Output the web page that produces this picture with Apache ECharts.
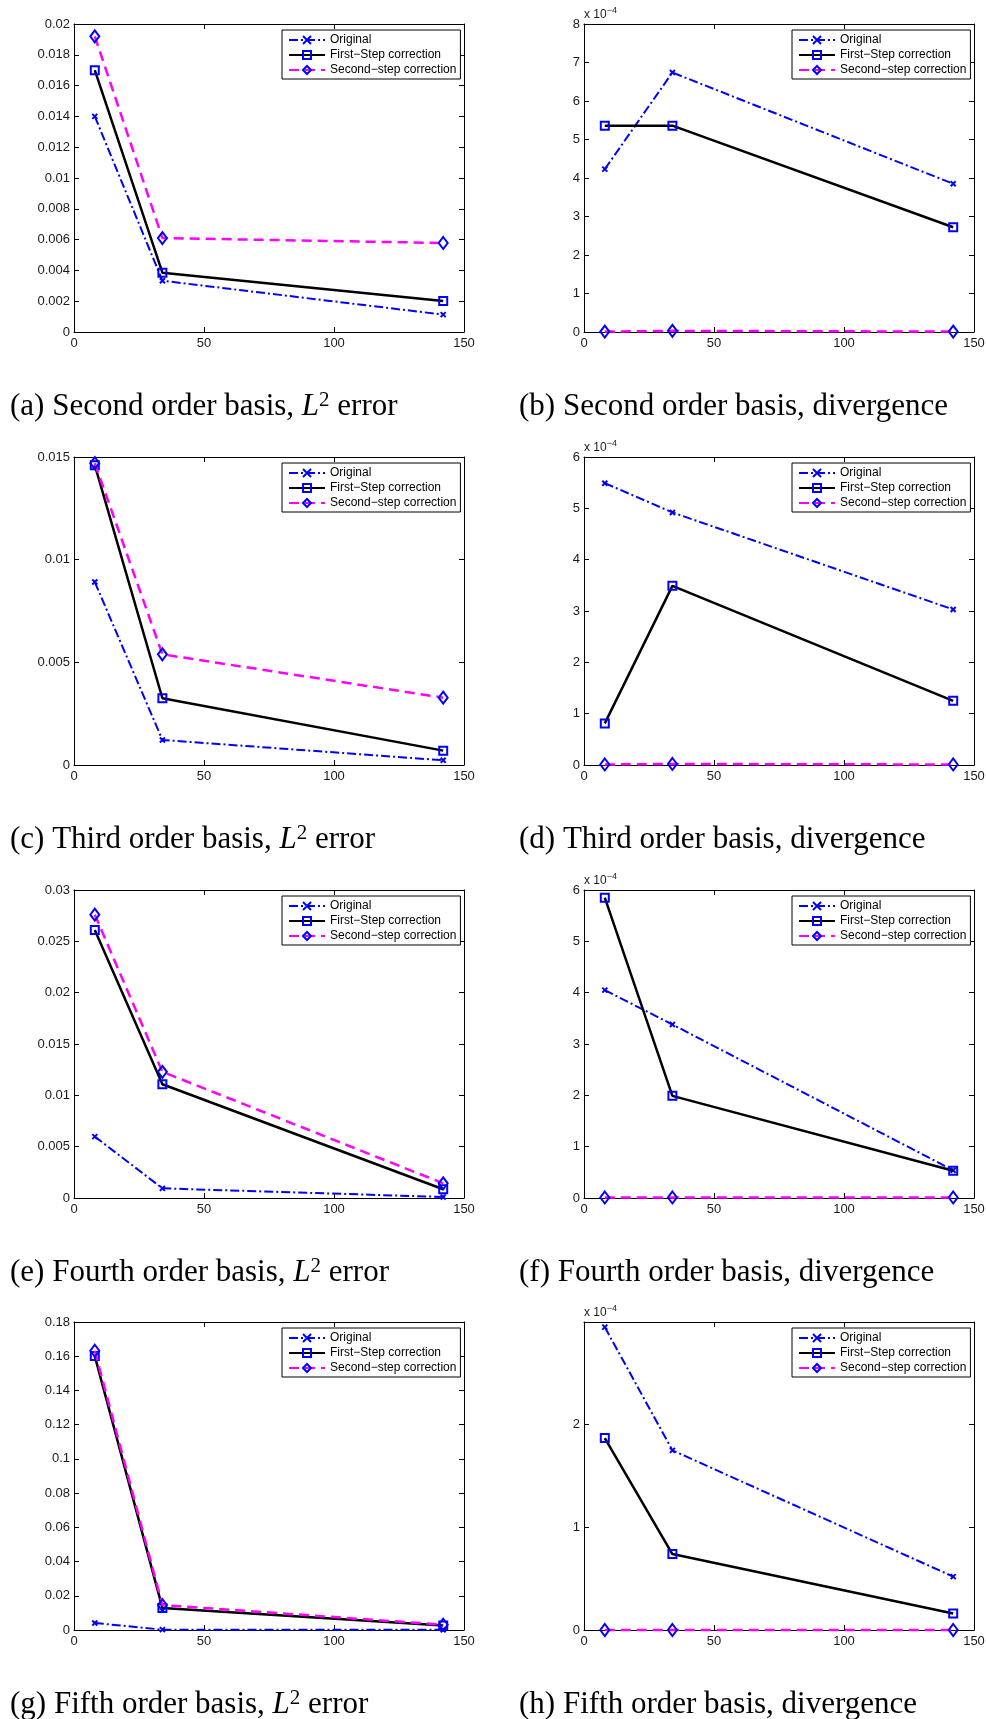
<!DOCTYPE html>
<html>
<head>
<meta charset="utf-8">
<style>
  html, body { margin: 0; padding: 0; background: #fff; }
  #main { width: 986px; height: 1719px; }
</style>
<script src="https://cdn.jsdelivr.net/npm/echarts@6/dist/echarts.min.js"></script>
</head>
<body>
<div id="main"></div>
<script>
// x values shared by all panels
const xValues = [8, 34, 142];

// (a) second order, L2 error
const aOriginal = [0.0140, 0.00333, 0.00113];
const aFirstStep = [0.0170, 0.00385, 0.00201];
const aSecondStep = [0.0192, 0.00610, 0.00578];
// (b) second order, divergence
const bOriginal = [4.23e-4, 6.74e-4, 3.85e-4];
const bFirstStep = [5.36e-4, 5.36e-4, 2.72e-4];
const bSecondStep = [0.01e-4, 0.03e-4, 0.01e-4];
// (c) third order, L2 error
const cOriginal = [0.00891, 0.00122, 0.00023];
const cFirstStep = [0.0146, 0.00325, 0.00070];
const cSecondStep = [0.0147, 0.00539, 0.00328];
// (d) third order, divergence
const dOriginal = [5.49e-4, 4.92e-4, 3.03e-4];
const dFirstStep = [0.81e-4, 3.49e-4, 1.25e-4];
const dSecondStep = [0.01e-4, 0.02e-4, 0.01e-4];
// (e) fourth order, L2 error
const eOriginal = [0.00598, 0.00094, 0.00010];
const eFirstStep = [0.0261, 0.01108, 0.00085];
const eSecondStep = [0.0276, 0.01229, 0.00143];
// (f) fourth order, divergence
const fOriginal = [4.05e-4, 3.38e-4, 0.54e-4];
const fFirstStep = [5.85e-4, 1.99e-4, 0.53e-4];
const fSecondStep = [0.01e-4, 0.01e-4, 0.01e-4];
// (g) fifth order, L2 error
const gOriginal = [0.0041, 0.0002, 0.0001];
const gFirstStep = [0.1601, 0.0129, 0.0027];
const gSecondStep = [0.1632, 0.0146, 0.0031];
// (h) fifth order, divergence
const hOriginal = [2.95e-4, 1.75e-4, 0.52e-4];
const hFirstStep = [1.87e-4, 0.74e-4, 0.16e-4];
const hSecondStep = [0, 0, 0];

// axis ranges
const xMax = 150;
const xStep = 50;
const yMaxes = [0.02, 8e-4, 0.015, 6e-4, 0.03, 6e-4, 0.18, 3e-4];
const ySteps = [0.002, 1e-4, 0.005, 1e-4, 0.005, 1e-4, 0.02, 1e-4];

const seriesNames = ['Original', 'First\u2212Step correction', 'Second\u2212step correction'];

const captions = [
    '(a) Second order basis, {it|L}{sup|2} error',
    '(b) Second order basis, divergence',
    '(c) Third order basis, {it|L}{sup|2} error',
    '(d) Third order basis, divergence',
    '(e) Fourth order basis, {it|L}{sup|2} error',
    '(f) Fourth order basis, divergence',
    '(g) Fifth order basis, {it|L}{sup|2} error',
    '(h) Fifth order basis, divergence'
];

const panelData = [
    [aOriginal, aFirstStep, aSecondStep],
    [bOriginal, bFirstStep, bSecondStep],
    [cOriginal, cFirstStep, cSecondStep],
    [dOriginal, dFirstStep, dSecondStep],
    [eOriginal, eFirstStep, eSecondStep],
    [fOriginal, fFirstStep, fSecondStep],
    [gOriginal, gFirstStep, gSecondStep],
    [hOriginal, hFirstStep, hSecondStep]
];

// layout
const colLeft = [74, 584];
const rowTop = [24, 457, 890, 1322];
const plotW = 390;
const plotH = 308;

const sansFont = 'Liberation Sans';
const serifFont = 'Liberation Serif';

const lineLooks = [
    {
        symbol: 'path://M0,0L10,10M0,10L10,0',
        symbolSize: 5,
        lineStyle: { color: '#0000ff', width: 2, type: [9, 3, 2, 3] },
        itemStyle: { color: '#0000ff', borderColor: '#0000ff', borderWidth: 2 }
    },
    {
        symbol: 'rect',
        symbolSize: 8,
        lineStyle: { color: '#000000', width: 2.5, type: 'solid' },
        itemStyle: { color: 'rgba(0,0,0,0)', borderColor: '#0000ff', borderWidth: 2 }
    },
    {
        symbol: 'diamond',
        symbolSize: [9, 12],
        lineStyle: { color: '#ff00ff', width: 2.5, type: [10, 6] },
        itemStyle: { color: 'rgba(0,0,0,0)', borderColor: '#0000ff', borderWidth: 2 }
    }
];

const isDivergence = i => i % 2 === 1;
const panelLeft = i => colLeft[i % 2];
const panelTop = i => rowTop[Math.floor(i / 2)];

const grid = [];
const xAxis = [];
const yAxis = [];
const legend = [];
const series = [];
const graphic = [];

const frameLine = { onZero: false, lineStyle: { color: '#000', width: 1 } };
const inTick = { inside: true, length: 5, lineStyle: { color: '#000', width: 1 } };
const tickText = { fontFamily: sansFont, fontSize: 13, color: '#1a1a1a' };

panelData.forEach((lines, i) => {
    const L = panelLeft(i);
    const T = panelTop(i);
    const div = isDivergence(i);

    grid.push({ left: L, top: T, width: plotW, height: plotH, outerBoundsMode: 'none' });

    [0, 1].forEach(k => {
        xAxis.push({
            type: 'value', gridIndex: i, min: 0, max: xMax, interval: xStep,
            position: k === 0 ? 'bottom' : 'top',
            axisLine: frameLine, axisTick: inTick, splitLine: { show: false },
            axisLabel: k === 0 ? Object.assign({ margin: 5 }, tickText) : { show: false }
        });
        const y = {
            type: 'value', gridIndex: i, min: 0, max: yMaxes[i], interval: ySteps[i],
            position: k === 0 ? 'left' : 'right',
            axisLine: frameLine, axisTick: inTick, splitLine: { show: false },
            axisLabel: k === 0 ? Object.assign({ margin: 4 }, tickText) : { show: false }
        };
        if (k === 0 && div) {
            y.axisLabel.formatter = v => String(Math.round(v * 1e4));
            y.name = 'x 10{sup|\u22124}';
            y.nameLocation = 'end';
            y.nameGap = 1;
            y.nameTextStyle = {
                align: 'left', verticalAlign: 'bottom',
                fontFamily: sansFont, fontSize: 12, color: '#1a1a1a',
                rich: { sup: { fontSize: 9, fontFamily: sansFont, color: '#1a1a1a', padding: [0, 0, 8, 0] } }
            };
        }
        if (k === 0 && i === 7) {
            y.axisLabel.showMaxLabel = false;
        }
        yAxis.push(y);
    });

    legend.push({
        left: L + 208, top: T + 6, orient: 'vertical',
        padding: [4, 4, 3, 6], itemWidth: 36, itemHeight: 10, itemGap: 3,
        borderColor: '#000', borderWidth: 1, backgroundColor: '#fff',
        selectedMode: false,
        textStyle: { fontFamily: sansFont, fontSize: 12, color: '#000' },
        data: seriesNames
    });

    lines.forEach((vals, s) => {
        series.push(Object.assign({
            type: 'line', name: seriesNames[s],
            xAxisIndex: 2 * i, yAxisIndex: 2 * i,
            data: xValues.map((x, j) => [x, vals[j]]),
            clip: false, animation: false, z: 2 + s
        }, lineLooks[s]));
    });

    graphic.push({
        type: 'text',
        x: i % 2 === 0 ? 10 : 519,
        y: T + 383,
        style: {
            text: captions[i],
            fontFamily: serifFont, fontSize: 31, fill: '#000',
            verticalAlign: 'middle',
            rich: {
                it: { fontFamily: serifFont, fontSize: 31, fontStyle: 'italic', fill: '#000' },
                sup: { fontFamily: serifFont, fontSize: 21, fill: '#000', padding: [0, 0, 14, 0] }
            }
        }
    });
});

const myChart = echarts.init(document.getElementById('main'), null, { renderer: 'canvas' });

myChart.setOption({
    backgroundColor: '#fff',
    animation: false,
    grid: grid,
    xAxis: xAxis,
    yAxis: yAxis,
    legend: legend,
    series: series,
    graphic: graphic
});
</script>
</body>
</html>
